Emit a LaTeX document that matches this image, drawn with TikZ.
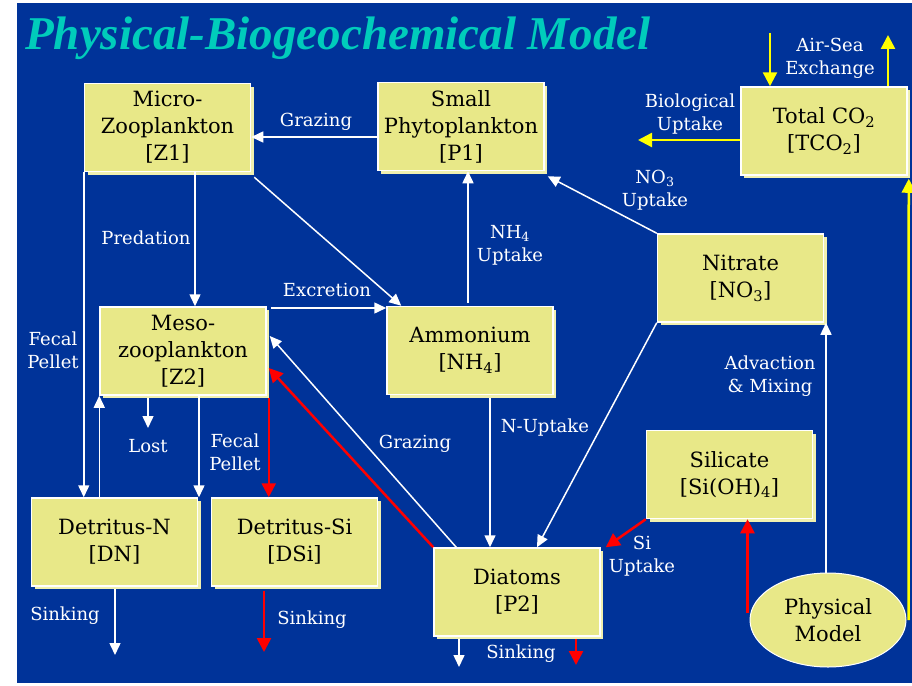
\documentclass[tikz,border=0pt]{standalone}
\usepackage{fontspec}
\setmainfont{DejaVu Serif}
\newfontfamily\titlefont{Liberation Serif}
\usetikzlibrary{arrows.meta,shapes.geometric,shadows}
\definecolor{bgblue}{RGB}{0,51,153}
\definecolor{boxyellow}{RGB}{232,232,136}
\definecolor{boxshade}{RGB}{240,240,176}
\definecolor{titlecyan}{RGB}{0,204,187}
\definecolor{flowred}{RGB}{255,0,0}
\definecolor{flowyellow}{RGB}{255,255,0}

\begin{document}
\begin{tikzpicture}[x=1pt,y=-1pt,
  box/.style={draw=white,line width=1.5pt,fill=boxyellow,
    drop shadow={shadow xshift=3pt,shadow yshift=-3pt,fill=boxshade,opacity=1},
    minimum width=166pt,minimum height=88pt,inner sep=0pt,align=center,
    font=\fontsize{21}{27}\selectfont},
  lbl/.style={text=white,inner sep=0pt,align=center,
    font=\fontsize{18}{23}\selectfont},
  wflow/.style={draw=white,line width=1.5pt,-{Triangle[length=12pt,width=11pt]}},
  rflow/.style={draw=flowred,line width=2.5pt,-{Triangle[length=14pt,width=14pt]}},
  yflow/.style={draw=flowyellow,line width=2.5pt,-{Triangle[length=14pt,width=14pt]}}]

\useasboundingbox (0,0) rectangle (912,685);
\fill[white] (0,0) rectangle (912,685);
\fill[bgblue] (17,3) rectangle (912,683);

\node[anchor=base west,text=titlecyan,inner sep=0pt,
  font=\titlefont\bfseries\itshape\fontsize{47}{50}\selectfont]
  (title) at (25,50) {Physical-Biogeochemical Model};

% compartments
\node[box] (z1) at (167.5,127.5) {Micro-\\Zooplankton\\{[}Z1{]}};
\node[box] (p1) at (461,126.5) {Small\\Phytoplankton\\{[}P1{]}};
\node[box] (tco) at (824,131) {Total CO\textsubscript{2}\\{[}TCO\textsubscript{2}{]}};
\node[box] (z2) at (183,351) {Meso-\\zooplankton\\{[}Z2{]}};
\node[box] (nh) at (470,350.5) {Ammonium\\{[}NH\textsubscript{4}{]}};
\node[box] (no) at (740.5,278) {Nitrate\\{[}NO\textsubscript{3}{]}};
\node[box] (si) at (729.5,474.5) {Silicate\\{[}Si(OH)\textsubscript{4}{]}};
\node[box] (dn) at (114.5,542) {Detritus-N\\{[}DN{]}};
\node[box] (dsi) at (294.5,542) {Detritus-Si\\{[}DSi{]}};
\node[box] (p2) at (517,592) {Diatoms\\{[}P2{]}};
\node[ellipse,draw=white,line width=1pt,fill=boxyellow,minimum width=156pt,
  minimum height=94pt,inner sep=0pt,align=center,
  font=\fontsize{21}{27}\selectfont] (phys) at (828,620) {Physical\\Model};

% free ends
\coordinate (lostend) at (148,428);
\coordinate (dnsink) at (115,655);
\coordinate (dsisink) at (264,652);
\coordinate (p2sinkw) at (459,667);
\coordinate (p2sinkr) at (576,665);
\coordinate (airin) at (770,33);
\coordinate (airout) at (888,35);
\coordinate (bioend) at (638,140);

% white fluxes
\draw[wflow] (p1.west |- 0,137) -- (z1.east |- 0,137);
\draw[wflow] (z1.south -| 195,0) -- (z2.north -| 195,0);
\draw[wflow] ([shift={(3pt,-5pt)}]z1.south east) -- ([xshift=15pt]nh.north west);
\draw[wflow,shorten <=4pt] (z2.east |- 0,308) -- (nh.west |- 0,308);
\draw[wflow,shorten <=3pt] (nh.north -| 468,0) -- (p1.south -| 468,0);
\draw[wflow] (no.north west) -- ([shift={(3pt,-5pt)}]p1.south east);
\draw[wflow,shorten <=3pt] (nh.south -| 490,0) -- (p2.north -| 490,0);
\draw[wflow] (no.south west) -- (p2.north -| 537,0);
\draw[wflow] ([xshift=-2pt]phys.north) -- ([xshift=-2pt]no.south -| phys.north);
\draw[wflow] ([xshift=23pt]p2.north west) -- ([yshift=15pt,xshift=3pt]z2.east);
\draw[wflow] (z1.south west) -- (dn.north -| z1.south west);
\draw[wflow] (dn.north -| z2.south west) -- (z2.south west);
\draw[wflow,shorten <=2pt] (z2.south -| lostend) -- (lostend);
\draw[wflow] (z2.south -| 199,0) -- (dn.north -| 199,0);
\draw[wflow,shorten <=2pt] (dn.south -| dnsink) -- (dnsink);
\draw[wflow,shorten <=2pt] (p2.south -| p2sinkw) -- (p2sinkw);

% red fluxes
\draw[rflow] (p2.north west) -- ([yshift=-17pt,xshift=2pt]z2.east);
\draw[rflow] (si.south west) -- ([xshift=5pt]p2.north east);
\draw[rflow] ([xshift=-2pt,yshift=7pt]phys.west) -- ([xshift=-2pt]si.south -| phys.west);
\draw[rflow,shorten <=2pt] ([xshift=2pt]z2.south east) -- ([xshift=2pt]dsi.north -| z2.south east);
\draw[rflow,shorten <=4pt] (dsi.south -| dsisink) -- (dsisink);
\draw[rflow,shorten <=2pt] (p2.south -| p2sinkr) -- (p2sinkr);

% carbon fluxes
\draw[yflow] (airin) -- (tco.north -| airin);
\draw[yflow] (tco.north -| airout) -- (airout);
\draw[yflow] (tco.west |- bioend) -- (bioend);
\draw[yflow] ([xshift=2pt]phys.east) -- ([shift={(1pt,-3pt)}]tco.south east);

% labels
\node[lbl] (lgraz1) at (316,122) {Grazing};
\node[lbl] (lpred) at (146,238) {Predation};
\node[lbl] (lexcr) at (327,290) {Excretion};
\node[lbl] (lnh) at (510,245) {NH\textsubscript{4}\\Uptake};
\node[lbl] (lno) at (655,190) {NO\textsubscript{3}\\Uptake};
\node[lbl] (lbio) at (690,114) {Biological\\Uptake};
\node[lbl] (lair) at (830,58) {Air-Sea\\Exchange};
\node[lbl] (lnup) at (545,428) {N-Uptake};
\node[lbl] (lgraz2) at (415,444) {Grazing};
\node[lbl] (lfec1) at (53,350) {Fecal\\Pellet};
\node[lbl] (llost) at (148,446) {Lost};
\node[lbl] (lfec2) at (235,452) {Fecal\\Pellet};
\node[lbl] (lsi) at (642,556) {Si\\Uptake};
\node[lbl] (ladv) at (770,376) {Advaction\\\& Mixing};
\node[lbl] (lsink1) at (65,616) {Sinking};
\node[lbl] (lsink2) at (312,620) {Sinking};
\node[lbl] (lsink3) at (521,654) {Sinking};
\end{tikzpicture}
\end{document}
